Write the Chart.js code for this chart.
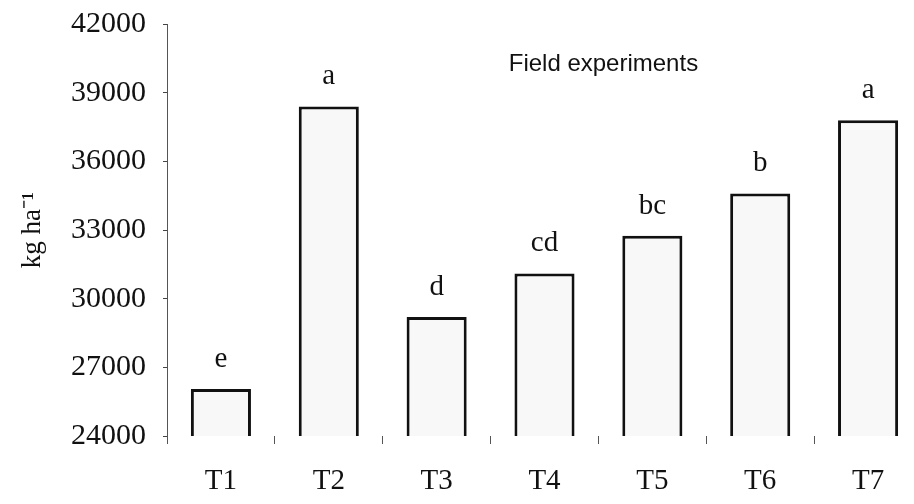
<!DOCTYPE html>
<html>
<head>
<meta charset="utf-8">
<script src="https://cdn.jsdelivr.net/npm/chart.js@4/dist/chart.umd.min.js"></script>
<style>
  html, body { margin: 0; padding: 0; background: #fff; overflow: hidden; }
  #wrap { width: 922px; height: 504px; }
</style>
</head>
<body>
<div id="wrap"><canvas id="yieldChart"></canvas></div>
<script>
const categories = ['T1', 'T2', 'T3', 'T4', 'T5', 'T6', 'T7'];
const yieldValues = [26050, 38400, 29200, 31100, 32750, 34600, 37800];
const groupLetters = ['e', 'a', 'd', 'cd', 'bc', 'b', 'a'];
const yTicks = [24000, 27000, 30000, 33000, 36000, 39000, 42000];
const panelLabel = 'Field experiments';

// letters of the mean separation test, drawn above each bar
const letterPlugin = {
  id: 'letters',
  afterDatasetsDraw(chart) {
    const ctx = chart.ctx;
    const bars = chart.getDatasetMeta(0).data;
    ctx.save();
    ctx.fillStyle = '#111';
    ctx.font = '29px "Liberation Serif"';
    ctx.textAlign = 'center';
    ctx.textBaseline = 'alphabetic';
    bars.forEach((bar, i) => {
      ctx.fillText(groupLetters[i], bar.x, bar.y - 22);
    });
    // panel label inside the plot
    const x = chart.scales.x.getPixelForValue(3.5);
    const y = chart.scales.y.getPixelForValue(40250);
    ctx.font = '24px "Liberation Sans"';
    ctx.textBaseline = 'middle';
    ctx.fillText(panelLabel, x + 5, y);
    ctx.restore();
  }
};

const ctx = document.getElementById('yieldChart').getContext('2d');
const yieldChart = new Chart(ctx, {
  type: 'bar',
  data: {
    labels: categories,
    datasets: [{
      data: yieldValues,
      backgroundColor: '#f8f8f8',
      borderColor: '#111',
      borderWidth: 3,
      borderSkipped: false,
      barPercentage: 0.557,
      categoryPercentage: 1
    }]
  },
  options: {
    responsive: true,
    maintainAspectRatio: false,
    animation: false,
    layout: { padding: { top: 24, left: 0, right: 0, bottom: 0 } },
    plugins: {
      legend: { display: false },
      tooltip: { enabled: false }
    },
    scales: {
      x: {
        grid: { drawOnChartArea: false, tickLength: 8, color: '#555', offset: true },
        border: { display: false },
        ticks: { color: '#111', padding: 20, font: { family: 'Liberation Serif', size: 29 } },
        afterFit(scale) { scale.height = 68; }
      },
      y: {
        min: 24000,
        max: 42000,
        afterBuildTicks(scale) { scale.ticks = yTicks.map(v => ({ value: v })); },
        grid: { drawOnChartArea: false, tickLength: 4, color: '#444' },
        border: { display: true, color: '#555', width: 1 },
        ticks: {
          color: '#111',
          padding: 17,
          font: { family: 'Liberation Serif', size: 30 },
          callback: v => String(v)
        },
        title: {
          display: true,
          text: 'kg ha\u207B\u00B9',
          color: '#111',
          padding: { top: 17, bottom: 0 },
          font: { family: 'Liberation Serif', size: 27 }
        },
        afterFit(scale) {
          scale.width = 167;
          scale.paddingTop = 0;
          scale.paddingBottom = 0;
        }
      }
    }
  },
  plugins: [letterPlugin]
});
</script>
</body>
</html>
